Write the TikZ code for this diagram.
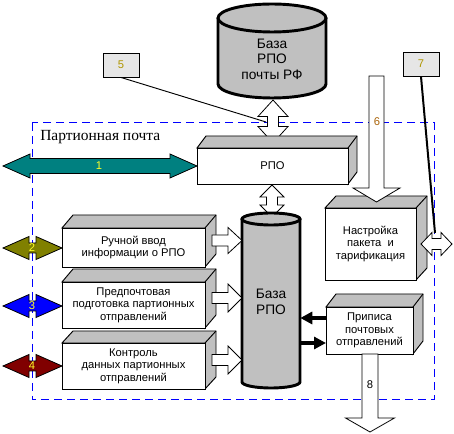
\documentclass[tikz,border=0pt]{standalone}
\usepackage{fontspec}
\setmainfont{Liberation Sans}
\newfontfamily\serifp{Liberation Serif}
\usetikzlibrary{arrows.meta}
\definecolor{cgray}{RGB}{192,192,192}
\definecolor{lgray}{RGB}{230,230,230}
\definecolor{cteal}{RGB}{0,128,128}
\definecolor{colive}{RGB}{128,128,0}
\definecolor{cblue}{RGB}{0,0,255}
\definecolor{cmaroon}{RGB}{128,0,0}
\definecolor{cgold}{RGB}{175,150,0}
\definecolor{corange}{RGB}{170,100,10}
\definecolor{cyell}{RGB}{255,255,40}
\tikzset{
  front/.style={draw=black, fill=white, line width=0.7pt, inner sep=0pt, outer sep=0pt,
     align=center, font=\fontsize{8.4}{9.4}\selectfont},
  facestyle/.style={draw=black, fill=cgray, line width=0.7pt, line join=miter},
  blockarrow/.style={draw=black, line width=0.6pt, line join=miter},
  numlbl/.style={inner sep=0pt, font=\fontsize{8.4}{9}\selectfont},
  cyltext/.style={inner sep=0pt, align=center, font=\fontsize{10.3}{11.6}\selectfont},
  thickarrow/.style={line width=2.4pt, -{Triangle[length=9pt,width=9pt]}},
  region/.style={draw=cblue, line width=0.75pt, dash pattern=on 6pt off 3.75pt},
  notebox/.style={draw=black, fill=lgray, line width=0.7pt, minimum width=27pt, minimum height=18pt, inner sep=0pt, text=cgold, font=\fontsize{8.4}{9}\selectfont},
}
% horizontal double arrow: x1,x2,yc,sw,hh,hl,fill
\newcommand\hdarr[7]{%
 \filldraw[blockarrow, fill=#7] (#1,#3) -- ({#1+#6},{#3-#5}) -- ({#1+#6},{#3-#4}) -- ({#2-#6},{#3-#4}) -- ({#2-#6},{#3-#5}) -- (#2,#3) -- ({#2-#6},{#3+#5}) -- ({#2-#6},{#3+#4}) -- ({#1+#6},{#3+#4}) -- ({#1+#6},{#3+#5}) -- cycle;}
% vertical double arrow: y1,y2,xc,sw,hh,hl,fill
\newcommand\vdarr[7]{%
 \filldraw[blockarrow, fill=#7] (#3,#1) -- ({#3+#5},{#1+#6}) -- ({#3+#4},{#1+#6}) -- ({#3+#4},{#2-#6}) -- ({#3+#5},{#2-#6}) -- (#3,#2) -- ({#3-#5},{#2-#6}) -- ({#3-#4},{#2-#6}) -- ({#3-#4},{#1+#6}) -- ({#3-#5},{#1+#6}) -- cycle;}
% right arrow: x1,x2,yc,sw,hh,hl
\newcommand\rarr[6]{%
 \filldraw[blockarrow, fill=white] (#1,{#3-#4}) -- ({#2-#6},{#3-#4}) -- ({#2-#6},{#3-#5}) -- (#2,#3) -- ({#2-#6},{#3+#5}) -- ({#2-#6},{#3+#4}) -- (#1,{#3+#4}) -- cycle;}
% down arrow: y1,y2,xc,sw,hh,hl
\newcommand\darr[6]{%
 \filldraw[blockarrow, fill=white] ({#3-#4},#1) -- ({#3+#4},#1) -- ({#3+#4},{#2-#6}) -- ({#3+#5},{#2-#6}) -- (#3,#2) -- ({#3-#5},{#2-#6}) -- ({#3-#4},{#2-#6}) -- cycle;}
% 3D box: name,x1,y1,x2,y2,dx,dy,text
\newcommand\cube[8]{%
 \filldraw[facestyle] (#2,#3) -- ({#2+#6},{#3-#7}) -- ({#4+#6},{#3-#7}) -- ({#4+#6},{#5-#7}) -- (#4,#5) -- (#4,#3) -- cycle;
 \draw[line width=0.7pt] (#4,#3) -- ({#4+#6},{#3-#7});
 \node[front, minimum width={(#4-#2)*0.75pt}, minimum height={(#5-#3)*0.75pt}] (#1) at ({(#2+#4)/2},{(#3+#5)/2}) {#8};}
% cylinder: cx,ytop,ybot,rx(pt),ry(pt),rx(px),lw
\newcommand\cyl[7]{%
 \filldraw[fill=cgray, line width=#7] ({#1-#6},#2) -- ({#1-#6},#3) arc[start angle=180, end angle=360, x radius=#4, y radius=#5] -- ({#1+#6},#2);
 \filldraw[fill=cgray, line width=#7] (#1,#2) ellipse[x radius=#4, y radius=#5];}
\begin{document}
\begin{tikzpicture}[x=0.75pt, y=-0.75pt]
\useasboundingbox (0,0) rectangle (454,434);
\fill[white] (0,0) rectangle (454,434);

% region
\draw[region] (32,123) rectangle (434,400);
\node[anchor=base west, inner sep=0pt, font=\serifp\fontsize{11.6}{12}\selectfont] (title) at (40,141) {Партионная почта};

% note 5
\node[notebox] (n5) at (121,65) {5};
\coordinate (c5) at (266,122);
\draw[line width=0.7pt] (n5.south) -- (c5);

% note 7
\node[notebox] (n7) at (421,64) {7};
\coordinate (c7) at (435,233);
\draw[line width=1.5pt] (n7.south) -- (c7);

% top database
\cyl{272}{18}{84}{40.5pt}{10.5pt}{54}{2.2pt}
\node[cyltext] (dbtop) at (272,59) {База\\РПО\\почты РФ};
\vdarr{100}{143}{273}{5.5}{15}{16.5}{white}

% RPO box
\cube{rpo}{197}{148}{348}{184}{9}{12}{РПО}
\vdarr{185}{217}{272}{5.5}{12}{12}{white}

% left boxes
\cube{b2}{62}{228}{205}{267}{11}{13}{Ручной ввод\\информации о РПО}
\cube{b3}{62}{282}{205}{328}{11}{13}{Предпочтовая\\подготовка партионных\\отправлений}
\cube{b4}{62}{343}{205}{389}{11}{12}{Контроль\\данных партионных\\отправлений}

% base RPO cylinder
\cyl{271}{219}{382}{21.75pt}{4.5pt}{29}{2.2pt}
\node[cyltext, minimum width=43.5pt, minimum height=120pt] (db) at (271,302) {База\\РПО};

% arrows into the base
\rarr{212}{242}{240.5}{5.5}{13}{14}
\rarr{212}{242}{298}{5.5}{14}{14}
\rarr{212}{242}{360}{5.5}{14}{14}

% settings box
\cube{nast}{325}{208}{416}{280}{11}{12}{Настройка\\пакета~~и\\тарификация}
\darr{76}{202}{376.5}{7.5}{23.5}{14}
\node[numlbl, text=corange] (n6) at (377,122) {6};
\hdarr{421}{452}{244}{5.5}{11.5}{11}{white}

% pripisa box
\cube{pr}{326}{307}{413}{354}{10}{13}{Приписа\\почтовых\\отправлений}
\coordinate (u1) at (0,318);
\coordinate (u2) at (0,343);
\draw[thickarrow] (pr.west |- u1) -- (db.east |- u1);
\draw[thickarrow] (db.east |- u2) -- (pr.west |- u2);
\darr{354}{432}{370}{8}{24.5}{14}
\node[numlbl, text=black] (n8) at (370,385) {8};

% external double arrows
\hdarr{3}{197}{166}{7.5}{12}{27}{cteal}
\node[numlbl, text=cyell] (l1) at (99,166) {1};
\hdarr{3}{62}{248}{5}{11.5}{26}{colive}
\node[numlbl, text=cyell] (l2) at (32,248) {2};
\hdarr{3}{62}{306}{5}{11.5}{26}{cblue}
\node[numlbl, text=cyell] (l3) at (32,306) {3};
\hdarr{3}{62}{366}{5}{11.5}{26}{cmaroon}
\node[numlbl, text=cyell] (l4) at (32,366) {4};
\end{tikzpicture}
\end{document}
